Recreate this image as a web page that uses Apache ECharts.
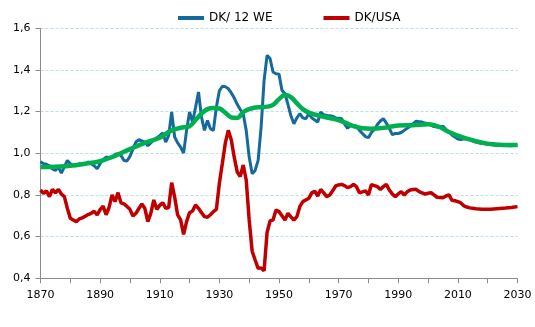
<!DOCTYPE html>
<html>
<head>
<meta charset="utf-8">
<script src="https://cdn.jsdelivr.net/npm/echarts@6/dist/echarts.min.js"></script>
<style>html,body{margin:0;padding:0;background:#fff}#c{width:535px;height:327px}</style>
</head>
<body>
<div id="c"></div>
<script>
// Years 1870..2030 (annual)
var startYear = 1870;
var endYear = 2030;

// DK / 12 WE (blue), annual 1870-2030
var dk12we = [
0.960,0.950,0.947,0.940,0.925,0.918,0.934,0.905,0.935,0.966,
0.950,0.942,0.940,0.950,0.945,0.947,0.958,0.950,0.940,0.926,
0.950,0.970,0.982,0.980,0.978,0.995,0.998,0.990,0.965,0.963,
0.985,1.020,1.054,1.065,1.060,1.054,1.036,1.050,1.065,1.074,
1.085,1.098,1.054,1.086,1.198,1.078,1.050,1.030,1.001,1.110,
1.198,1.150,1.220,1.294,1.174,1.110,1.158,1.118,1.110,1.222,
1.300,1.322,1.320,1.310,1.290,1.265,1.235,1.210,1.190,1.110,
0.982,0.902,0.918,0.966,1.126,1.350,1.470,1.455,1.390,1.382,
1.380,1.302,1.287,1.235,1.180,1.142,1.170,1.190,1.170,1.166,
1.190,1.170,1.160,1.150,1.198,1.185,1.182,1.180,1.178,1.170,
1.168,1.166,1.140,1.120,1.134,1.134,1.130,1.110,1.095,1.080,
1.075,1.100,1.114,1.138,1.155,1.166,1.145,1.120,1.090,1.095,
1.095,1.100,1.110,1.120,1.130,1.142,1.154,1.152,1.150,1.145,
1.142,1.135,1.128,1.126,1.128,1.130,1.115,1.102,1.088,1.078,
1.068,1.066,1.070,1.068,1.066,1.060,1.054,1.051,1.048,1.046,
1.043,1.042,1.040,1.039,1.038,1.037,1.037,1.036,1.036,1.037,
1.037
];

// DK / USA (red), annual 1870-2030
var dkUsa = [
0.824,0.808,0.820,0.792,0.827,0.810,0.827,0.805,0.792,0.736,
0.688,0.680,0.672,0.685,0.690,0.698,0.706,0.712,0.722,0.704,
0.730,0.747,0.705,0.740,0.800,0.768,0.811,0.762,0.757,0.745,
0.731,0.699,0.712,0.735,0.757,0.736,0.672,0.712,0.776,0.731,
0.750,0.763,0.736,0.740,0.859,0.790,0.704,0.680,0.611,0.672,
0.715,0.723,0.752,0.736,0.715,0.696,0.693,0.705,0.720,0.731,
0.856,0.952,1.050,1.110,1.064,0.980,0.910,0.888,0.944,0.872,
0.680,0.530,0.488,0.448,0.450,0.436,0.620,0.675,0.680,0.728,
0.720,0.700,0.680,0.712,0.695,0.680,0.696,0.745,0.768,0.776,
0.784,0.810,0.818,0.795,0.827,0.810,0.792,0.800,0.820,0.843,
0.848,0.851,0.845,0.835,0.840,0.851,0.840,0.810,0.815,0.820,
0.800,0.850,0.845,0.840,0.827,0.840,0.851,0.824,0.805,0.792,
0.805,0.816,0.800,0.815,0.824,0.826,0.827,0.816,0.810,0.804,
0.808,0.811,0.800,0.789,0.788,0.787,0.795,0.800,0.775,0.772,
0.768,0.762,0.748,0.742,0.738,0.736,0.734,0.733,0.732,0.732,
0.732,0.732,0.733,0.734,0.735,0.736,0.737,0.739,0.740,0.742,
0.744
];

// Trend (green), selected years
var trendYears = [1870,1875,1880,1885,1890,1895,1900,1905,1910,1914,1918,1920,1922,1924,1926,1928,1930,1932,1934,1936,1938,1940,1942,1944,1946,1948,1950,1952,1954,1956,1958,1960,1963,1966,1969,1972,1975,1978,1981,1985,1990,1995,2000,2003,2005,2007,2010,2013,2016,2019,2022,2025,2030];
var trendValues = [0.934,0.936,0.940,0.950,0.962,0.988,1.020,1.050,1.075,1.110,1.125,1.130,1.160,1.190,1.212,1.218,1.215,1.195,1.172,1.170,1.198,1.212,1.220,1.222,1.224,1.232,1.260,1.280,1.270,1.240,1.212,1.195,1.182,1.172,1.163,1.148,1.130,1.120,1.118,1.122,1.133,1.135,1.140,1.130,1.118,1.102,1.085,1.070,1.058,1.049,1.043,1.040,1.040];

var seriesNames = ['DK/ 12 WE', 'DK/USA'];

function pairs(vals) {
  var out = [];
  for (var i = 0; i < vals.length; i++) out.push([startYear + i, vals[i]]);
  return out;
}
var trendData = trendYears.map(function (y, i) { return [y, trendValues[i]]; });

var chart = echarts.init(document.getElementById('c'), null, {renderer: 'canvas'});
var font = 'DejaVu Sans';
chart.setOption({
  animation: false,
  backgroundColor: '#fff',
  grid: {left: 40.5, right: 17.5, top: 28.3, bottom: 48.7, containLabel: false},
  legend: {
    data: seriesNames,
    top: 7,
    left: 173,
    itemWidth: 26,
    itemHeight: 4,
    itemGap: 51,
    icon: 'rect',
    textStyle: {fontFamily: font, fontSize: 12, color: '#000'}
  },
  xAxis: {
    type: 'value',
    min: startYear,
    max: endYear,
    interval: 10,
    axisLine: {show: true, lineStyle: {color: '#8c8c8c', width: 1}},
    axisTick: {show: true, length: 5, lineStyle: {color: '#8c8c8c'}},
    splitLine: {show: false},
    axisLabel: {
      fontFamily: font, fontSize: 11, color: '#000', margin: 11,
      formatter: function (v) { return ((v - 1870) % 20 === 0) ? String(v) : ''; }
    }
  },
  yAxis: {
    type: 'value',
    min: 0.4,
    max: 1.6,
    interval: 0.2,
    axisLine: {show: true, lineStyle: {color: '#8c8c8c', width: 1}},
    axisTick: {show: true, length: 5, lineStyle: {color: '#8c8c8c'}},
    splitLine: {show: true, lineStyle: {color: '#b9e0e6', type: [3, 2], width: 1}},
    axisLabel: {
      fontFamily: font, fontSize: 11, color: '#000', margin: 10,
      formatter: function (v) { return v.toFixed(1).replace('.', ','); }
    }
  },
  series: [
    {name: seriesNames[0], type: 'line', data: pairs(dk12we), showSymbol: false, symbol: 'none',
     lineStyle: {color: '#156A9C', width: 3}, itemStyle: {color: '#156A9C'}, z: 2},
    {name: seriesNames[1], type: 'line', data: pairs(dkUsa), showSymbol: false, symbol: 'none',
     lineStyle: {color: '#C00000', width: 3.5}, itemStyle: {color: '#C00000'}, z: 3},
    {name: 'trend', type: 'line', data: trendData, showSymbol: false, symbol: 'none', smooth: 0.4,
     lineStyle: {color: '#00B050', width: 4.5}, itemStyle: {color: '#00B050'}, z: 4}
  ]
});
</script>
</body>
</html>
